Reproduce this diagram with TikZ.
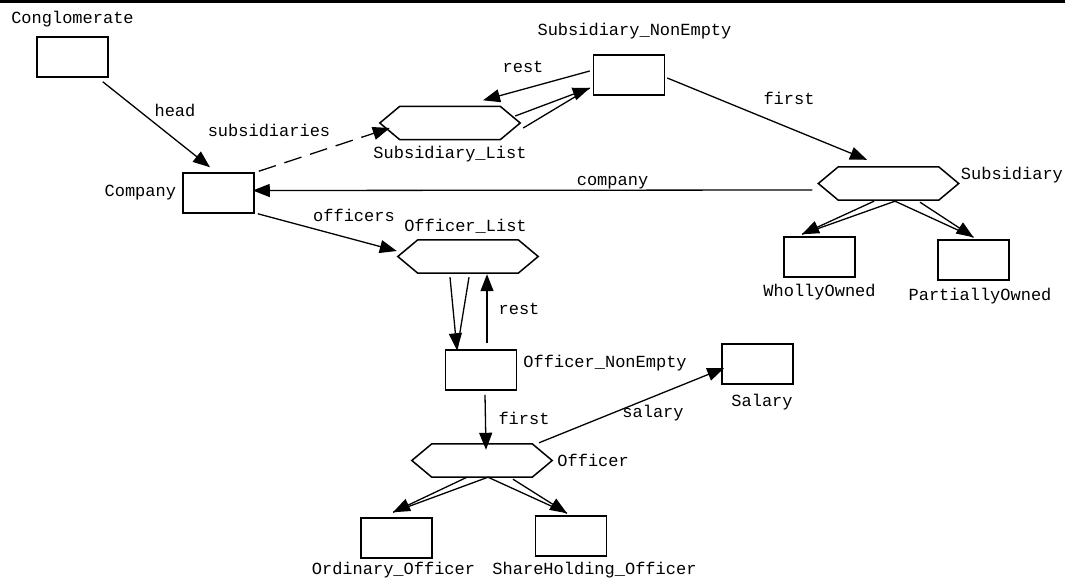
\documentclass[tikz,border=0pt]{standalone}
\usepackage{fontspec}
\setmainfont{Liberation Mono}
\usetikzlibrary{arrows.meta,positioning}

\begin{document}
\begin{tikzpicture}[x=1pt,y=-1pt,font=\fontsize{17}{20}\selectfont,
box/.style={draw,line width=1.5pt,minimum width=71pt,minimum height=40pt,inner sep=0pt},
hexa/.style={minimum width=140pt,minimum height=33pt,inner sep=0pt},
lbl/.style={inner sep=0pt},
con/.style={line width=1.3pt},
arr/.style={con,-{Triangle[length=17pt,width=13pt]}}]
\useasboundingbox (0,0) rectangle (1065,578);
\draw[line width=3pt] (0,1.5) -- (1065,1.5);

% classes and lists
\node[box,label={[lbl,label distance=9pt]above:Conglomerate}] (cong) at (72.5,57) {};
\node[box,label={[lbl,label distance=6pt]left:Company}] (comp) at (218.5,193) {};
\node[hexa,label={[lbl,label distance=6pt]below:Subsidiary\_List}] (sublist) at (450,123) {};
\node[box,label={[lbl,label distance=15pt,xshift=5.5pt]above:Subsidiary\_NonEmpty}] (subne) at (629,75) {};
\node[hexa,label={[lbl,label distance=2pt,yshift=8.5pt]right:Subsidiary}] (sub) at (888.5,183.5) {};
\node[box,label={[lbl,label distance=6pt]below:WhollyOwned}] (wholly) at (819.5,257) {};
\node[box,label={[lbl,label distance=7pt,xshift=6.5pt]below:PartiallyOwned}] (partly) at (973.5,260) {};
\node[hexa,label={[lbl,label distance=6pt,xshift=-2.5pt]above:Officer\_List}] (offlist) at (468,256.5) {};
\node[box,label={[lbl,label distance=6pt,yshift=7pt]right:Officer\_NonEmpty}] (offne) at (481,370) {};
\node[box,label={[lbl,label distance=9pt,xshift=4.5pt]below:Salary}] (salary) at (757.5,364) {};
\node[hexa,label={[lbl,label distance=5pt]right:Officer}] (officer) at (482,460.5) {};
\node[box,label={[lbl,label distance=3pt,xshift=-3pt]below:Ordinary\_Officer}] (ordoff) at (396.5,538) {};
\node[box,label={[lbl,label distance=5pt,xshift=23.5pt]below:ShareHolding\_Officer}] (shoff) at (571,536) {};

% hexagon outlines
\foreach \h in {sublist,sub,offlist,officer}
  \draw[line width=1.5pt] (\h.west) -- ([xshift=20pt]\h.north west) -- ([xshift=-20pt]\h.north east)
    -- (\h.east) -- ([xshift=-20pt]\h.south east) -- ([xshift=20pt]\h.south west) -- cycle;

% role names
\node[lbl] (headl) at (175,110) {head};
\node[lbl] (subsl) at (269,130) {subsidiaries};
\node[lbl] (restl) at (523,67) {rest};
\node[lbl] (firstl) at (789,98) {first};
\node[lbl] (compl) at (612.5,183) {company};
\node[lbl] (offl) at (354,215) {officers};
\node[lbl] (rest2l) at (519,309) {rest};
\node[lbl] (first2l) at (524,418) {first};
\node[lbl] (sall) at (653,413) {salary};

% connectors
\draw[arr] ([shift={(-6,4)}]cong.south east) -- ([shift={(-8.5,-5)}]comp.north);
\draw[arr,dash pattern=on 18pt off 9pt] ([shift={(4,-1)}]comp.north east) -- ([shift={(10,5)}]sublist.west);
\draw[arr] ([shift={(-3,-4)}]subne.west) -- ([shift={(33,-6)}]sublist.north);
\draw[arr] ([shift={(-5,-7)}]sublist.east) -- ([shift={(-3,13)}]subne.west);
\draw[con] ([shift={(3,5)}]sublist.east) -- ([shift={(-3,13)}]subne.west);
\draw[arr] ([shift={(2,3)}]subne.east) -- ([shift={(-21.5,-7)}]sub.north);
\draw[arr] ([shift={(-6,6.5)}]sub.west) -- ([shift={(-2,-2.5)}]comp.east);
\draw[arr] ([shift={(-14.5,1)}]sub.south) -- ([shift={(-17.5,-2)}]wholly.north);
\draw[con] ([shift={(6.5,1)}]sub.south) -- ([shift={(-17.5,-2)}]wholly.north);
\draw[arr] ([shift={(31.5,2)}]sub.south) -- ([shift={(0,-2)}]partly.north);
\draw[con] ([shift={(6.5,1)}]sub.south) -- ([shift={(0,-2)}]partly.north);
\draw[arr] ([shift={(3,0)}]comp.south east) -- ([shift={(-1,-5.5)}]offlist.west);
\draw[arr] ([shift={(-18,4)}]offlist.south) -- ([shift={(-24,1)}]offne.north);
\draw[con] ([shift={(1,4)}]offlist.south) -- ([shift={(-24,1)}]offne.north);
\draw[arr] ([shift={(6,-6)}]offne.north) -- ([shift={(19,1)}]offlist.south);
\draw[arr] ([shift={(4,4)}]offne.south) -- ([shift={(4,6)}]officer.north);
\draw[arr] ([shift={(57,-1)}]officer.north) -- ([shift={(3,4)}]salary.west);
\draw[arr] ([shift={(-15,0)}]officer.south) -- ([shift={(-3.5,-5)}]ordoff.north);
\draw[con] ([shift={(6,0)}]officer.south) -- ([shift={(-3.5,-5)}]ordoff.north);
\draw[arr] ([shift={(31,2)}]officer.south) -- ([shift={(-4,-2)}]shoff.north);
\draw[con] ([shift={(6,0)}]officer.south) -- ([shift={(-4,-2)}]shoff.north);
\end{tikzpicture}
\end{document}
